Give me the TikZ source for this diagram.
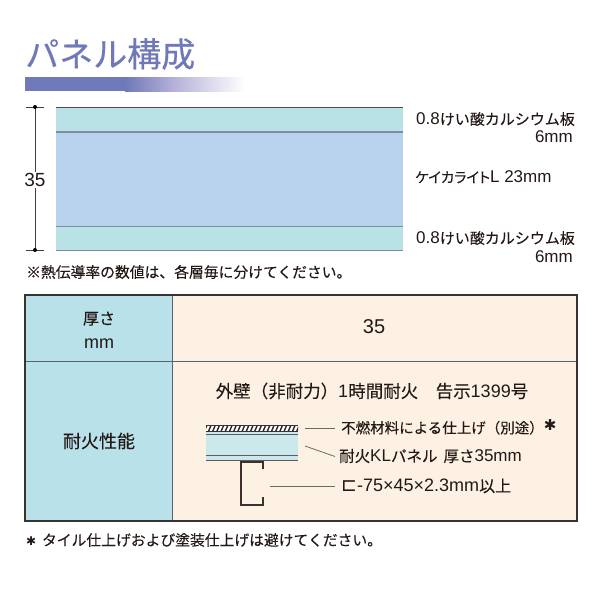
\documentclass[tikz,border=0pt]{standalone}
\usepackage{fontspec}
\usetikzlibrary{patterns}
\setmainfont{Noto Sans CJK JP}[FakeBold=0.12]
\newfontfamily\titlefont{Noto Sans CJK JP}[FakeBold=0.35]
\newfontfamily\paltfont{Noto Sans CJK JP}[FakeBold=0.12,RawFeature=+palt]
\newfontfamily\lat{Liberation Sans}
\newfontfamily\sym{DejaVu Sans}
\newfontfamily\starfont{DejaVu Sans}
\definecolor{titlecol}{HTML}{6F78B8}
\definecolor{teal}{HTML}{B9E2E7}
\definecolor{bluecore}{HTML}{B8D2EE}
\definecolor{rowleft}{HTML}{B9E1EA}
\definecolor{rowright}{HTML}{FDF1E4}
\definecolor{layerline}{HTML}{7F8CA3}
\definecolor{frame}{HTML}{3B3230}
\definecolor{inklabel}{HTML}{231815}
\definecolor{leader}{HTML}{6B6B5F}
\definecolor{smallteal}{HTML}{CBE8EC}
\definecolor{fademid}{HTML}{B4B0D8}
\pgfdeclarehorizontalshading{barfade}{100bp}{color(0bp)=(titlecol); color(25bp)=(titlecol); color(45bp)=(fademid); color(75bp)=(white); color(100bp)=(white)}
\tikzset{
  x=1pt,y=-1pt,
  lab/.style={inner sep=0pt,text=inklabel,font=\fontsize{15}{16}\selectfont},
  labl/.style={lab,anchor=west},
  labr/.style={lab,anchor=east},
  small/.style={inner sep=0pt,text=inklabel,anchor=west,font=\fontsize{14.5}{16}\selectfont},
  leaderline/.style={draw=leader,line width=0.8pt},
  dimline/.style={draw=black!75,line width=0.8pt},
  layer/.style={draw=layerline,line width=1.2pt},
}
\begin{document}
\begin{tikzpicture}
\useasboundingbox (0,0) rectangle (600,600);
% title
\node[inner sep=0pt,anchor=west,text=titlecol,font=\titlefont\fontsize{34}{36}\selectfont] (title) at (25,54) {パネル構成};
\fill[titlecol] (25,77) rectangle (125.5,91);
\shade[shading=barfade] (125,77) rectangle (245,91);
% panel
\fill[teal] (56,108) rectangle (403,132);
\fill[bluecore] (56,132) rectangle (403,226);
\fill[teal] (56,226) rectangle (403,250);
\draw[draw=black!70,line width=0.7pt] (56,107.5) -- (403,107.5);
\draw[layer] (56,132) -- (403,132);
\draw[layer,line width=1pt] (56,226) -- (403,226);
\draw[draw=layerline,line width=0.8pt] (56,250) -- (403,250);
% dimension
\coordinate (dimtop) at (35,107);
\coordinate (dimbot) at (35,250);
\draw[dimline] (dimtop) -- (dimbot);
\draw[dimline] (26,107) -- (44,107);
\draw[dimline] (26,250) -- (44,250);
\fill[black] (dimtop) circle (2pt);
\fill[black] (dimbot) circle (2pt);
\node[fill=white,inner sep=1.5pt,text=inklabel,font=\lat\fontsize{19}{20}\selectfont] (dim) at (35,180) {35};
% labels
\node[labl] (l1) at (416,119) {{\lat\fontsize{17}{16}\selectfont 0.8}けい酸カルシウム板};
\node[labr] (l1b) at (573,137) {{\lat\fontsize{17}{16}\selectfont 6mm}};
\node[labl] (l2) at (415,177) {{\paltfont\fontsize{14.3}{16}\selectfont ケイカライト}{\lat\fontsize{17}{16}\selectfont L 23mm}};
\node[labl] (l3) at (416,238) {{\lat\fontsize{17}{16}\selectfont 0.8}けい酸カルシウム板};
\node[labr] (l3b) at (573,257) {{\lat\fontsize{17}{16}\selectfont 6mm}};
\node[labl,font=\fontsize{14.8}{16}\selectfont] (note1) at (26,272) {※熱伝導率の数値は、各層毎に分けてください。};
% table
\fill[rowleft] (25,295) rectangle (172,521);
\fill[rowright] (172,295) rectangle (577,521);
\draw[draw=layerline!70!black,line width=0.8pt] (172,295) -- (172,521);
\draw[draw=layerline!70!black,line width=0.8pt] (25,361) -- (577,361);
\draw[draw=frame,line width=2pt] (25,295) rectangle (577,521);
\node[lab,align=center,font=\fontsize{16}{24}\selectfont] (h1) at (99,330) {厚さ\\{\lat\fontsize{18}{24}\selectfont mm}};
\node[lab,font=\lat\fontsize{20}{20}\selectfont] (v1) at (374,327) {35};
\node[lab,font=\fontsize{18}{20}\selectfont] (h2) at (99,441) {耐火性能};
\node[lab,font=\fontsize{17.5}{20}\selectfont] (v2) at (372,391) {外壁（非耐力）{\lat\fontsize{18}{20}\selectfont 1}時間耐火\quad 告示{\lat\fontsize{18}{20}\selectfont 1399}号};
% small section
\fill[smallteal] (206,431) rectangle (298,460);
\fill[white] (206,425.5) rectangle (298,431);
\begin{scope}
\clip (206,425.5) rectangle (298,431);
\foreach \i in {0,...,24}{
  \draw[black!85,line width=1.4pt] ({204+\i*4.2},432) -- ({207+\i*4.2},425);
}
\end{scope}
\draw[draw=frame,line width=0.8pt] (206,425.5) -- (298,425.5);
\draw[draw=frame,line width=0.8pt] (206,431) -- (298,431);
\draw[draw=frame!80,line width=1pt] (206,434.5) -- (298,434.5);
\draw[draw=frame!80,line width=1pt] (206,455.5) -- (298,455.5);
\draw[draw=frame!80,line width=0.9pt] (206,460) -- (298,460);
\draw[draw=frame,line width=2pt] (262.5,469) -- (262.5,461.5) -- (241,461.5) -- (241,505) -- (262.5,505) -- (262.5,497);
% leaders and labels
\node[small] (s1) at (341,427) {不燃材料による仕上げ（別途）\raisebox{3pt}{\starfont\fontsize{15}{16}\selectfont ✱}};
\node[small,font=\fontsize{15.5}{16}\selectfont] (s2) at (339,456) {耐火{\lat\fontsize{17}{16}\selectfont KL}パネル\, 厚さ{\lat\fontsize{17}{16}\selectfont 35mm}};
\node[small,font=\fontsize{16}{16}\selectfont] (s3) at (341,486) {{\sym\fontsize{19}{16}\selectfont ⊏}{\lat\fontsize{18}{16}\selectfont -75×45×2.3mm}以上};
\coordinate (a1) at (305,428.5);
\coordinate (a2) at (305,446);
\coordinate (a3) at (270,486);
\draw[leaderline] (a1) -- (335,428.5);
\draw[leaderline] (a2) -- (335,456.5);
\draw[leaderline] (a3) -- (335,486);
% footnote
\node[labl,font=\fontsize{14.8}{16}\selectfont] (note2) at (26,540) {{\starfont\fontsize{12}{16}\selectfont ✱}\, タイル仕上げおよび塗装仕上げは避けてください。};
\end{tikzpicture}
\end{document}
